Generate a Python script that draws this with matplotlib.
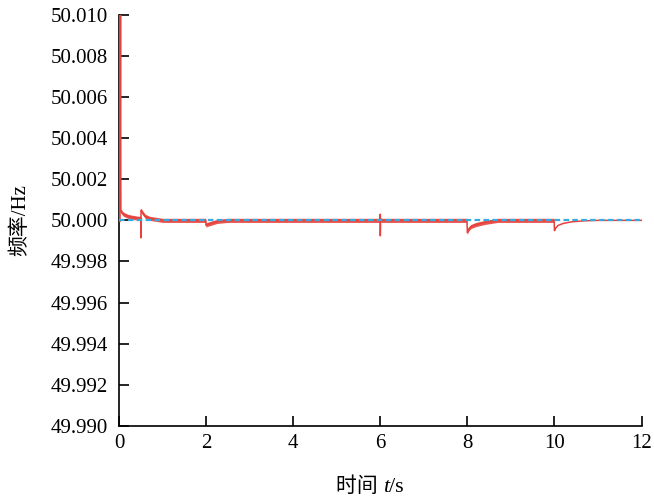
import matplotlib.pyplot as plt
import numpy as np

plt.rcParams['font.family'] = ['Liberation Serif', 'Noto Sans CJK SC']

# Data (key points of the traces)
red_t = [0.0, 0.012, 0.02, 0.03, 0.06, 0.1, 0.2, 0.3, 0.45,
         0.5, 0.5, 0.505, 0.51, 0.53, 0.6, 0.7, 0.85, 1.0, 1.3, 1.99,
         2.0, 2.02, 2.1, 2.25, 2.5, 3.0, 5.99,
         6.0, 6.0, 6.005, 6.01, 6.05, 6.2, 7.99,
         8.0, 8.02, 8.08, 8.2, 8.4, 8.7, 9.99,
         10.0, 10.02, 10.08, 10.2, 10.4, 10.7, 11.0, 12.0]
red_f = [50.0000, 50.0100, 50.0006, 50.0005, 50.0004, 50.0003, 50.0002, 50.00015, 50.0001,
         50.0001, 49.99915, 50.00045, 50.0005, 50.0004, 50.0002, 50.0001, 50.00005, 50.0000, 50.0000, 50.0000,
         49.99975, 49.9998, 49.99985, 49.99995, 50.0000, 50.0000, 50.0000,
         50.0003, 49.99925, 50.0001, 50.0000, 50.0000, 50.0000, 50.0000,
         49.9994, 49.99955, 49.9997, 49.9998, 49.9999, 50.0000, 50.0000,
         49.9995, 49.9996, 49.99975, 49.99985, 49.99993, 49.99998, 50.0000, 50.0000]
blue_t = [0.0, 12.0]
blue_f = [50.0000, 50.0000]
noise_band = 0.0001  # half width of the fuzzy band on the red trace (0-10 s)

fig = plt.figure(figsize=(6.54, 4.98), dpi=100)
ax = fig.add_axes([0.182, 0.145, 0.799, 0.825])

red_t = np.array(red_t)
red_f = np.array(red_f)
red = '#e8403b'
main = (red_t <= 10.0) & (red_t >= 0.02)
ax.fill_between(red_t[main], red_f[main] - noise_band, red_f[main] + noise_band,
                color=red, lw=0, alpha=0.9, zorder=3)
ax.plot(red_t, red_f, color=red, lw=1.1, zorder=3)
ax.plot(red_t[:3], red_f[:3], color=red, lw=2.5, zorder=3)
ax.plot(blue_t, blue_f, color='#35abe0', lw=1.6, ls=(0, (2.5, 1.5)), zorder=4)

ax.set_xlim(0, 12)
ax.set_ylim(49.990, 50.010)
ax.set_xticks(np.arange(0, 13, 2))
ax.set_yticks(np.arange(49.990, 50.0101, 0.002))
ax.yaxis.set_major_formatter(plt.FormatStrFormatter('%.3f'))
ax.tick_params(direction='in', length=7, width=1.2, labelsize=15)
ax.tick_params(axis='y', pad=8)
ax.tick_params(axis='x', pad=6)
ax.spines['top'].set_visible(False)
ax.spines['right'].set_visible(False)
for s in ['left', 'bottom']:
    ax.spines[s].set_linewidth(1.2)

ax.set_ylabel('频率/Hz', fontsize=15, labelpad=15)

# x label: "时间 t/s" with italic t
xl = ax.text(0.505, -0.15, '时间 ', transform=ax.transAxes, fontsize=15,
             ha='right', va='center')
t_txt = ax.annotate('t', xy=(1, 0), xycoords=xl, fontsize=16, style='italic',
                    va='bottom', ha='left')
ax.annotate('/s', xy=(1, 0), xycoords=t_txt, fontsize=16, va='bottom', ha='left')

fig.savefig('out.png', dpi=100)
